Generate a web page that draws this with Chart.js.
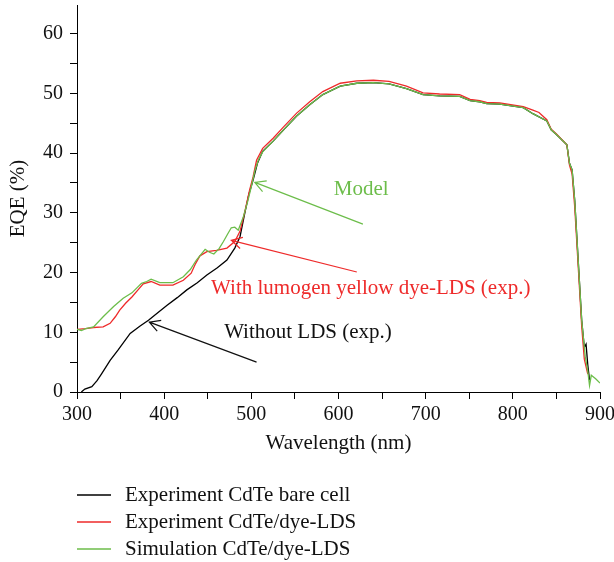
<!DOCTYPE html>
<html>
<head>
<meta charset="utf-8">
<script src="https://cdn.jsdelivr.net/npm/chart.js@4"></script>
<style>
  body { margin: 0; background: #fff; }
</style>
</head>
<body>
<canvas id="Chart" width="614" height="562"></canvas>
<script>
// data
const wlBare = [305, 309, 317, 323, 328, 338, 347, 361, 372, 382, 393, 403, 415, 426, 438, 449, 461, 472, 481, 487, 492, 497, 502, 507, 513, 525, 537, 552, 567, 582, 602, 621, 640, 658, 678, 697, 716, 739, 751, 762, 770, 785, 812, 823, 839, 844, 850, 862, 865, 868, 871, 875, 879, 882, 884, 886, 888];
const eqeBare = [0, 0.5, 0.9, 1.9, 3.0, 5.3, 7.0, 9.8, 11.0, 12.0, 13.3, 14.5, 15.8, 17.1, 18.3, 19.6, 20.8, 22.1, 24.1, 26.0, 29.6, 33.0, 35.5, 38.3, 40.3, 42.0, 43.9, 46.2, 48.1, 49.8, 51.2, 51.7, 51.8, 51.6, 50.8, 49.8, 49.6, 49.5, 48.8, 48.6, 48.3, 48.2, 47.6, 46.6, 45.4, 43.9, 43.1, 41.4, 38.3, 37.2, 32.1, 22.0, 12.0, 7.5, 8.0, 4.5, 2.0];

const wlDye = [300, 310, 319, 330, 338, 344, 349, 356, 363, 370, 376, 385, 395, 410, 422, 431, 436, 441, 449, 460, 472, 481, 487, 493, 498, 502, 506, 513, 525, 537, 552, 567, 582, 602, 621, 640, 658, 678, 697, 716, 739, 751, 762, 770, 785, 812, 823, 830, 839, 844, 850, 862, 865, 868, 871, 875, 879, 882, 886];
const eqeDye = [10.5, 10.6, 10.8, 10.9, 11.5, 12.6, 13.7, 14.9, 15.9, 17.1, 18.1, 18.5, 17.9, 17.9, 18.7, 19.9, 21.5, 22.8, 23.5, 23.7, 24.1, 25.2, 26.9, 30.5, 33.8, 36.0, 38.8, 40.8, 42.5, 44.4, 46.7, 48.6, 50.3, 51.7, 52.1, 52.2, 52.0, 51.2, 50.1, 49.9, 49.8, 49.0, 48.8, 48.5, 48.4, 47.8, 47.2, 46.8, 45.6, 44.0, 43.2, 41.4, 38.0, 36.5, 31.0, 21.0, 11.0, 5.5, 3.0];

const wlSim = [300, 305, 310, 319, 330, 342, 353, 363, 374, 380, 385, 395, 410, 422, 430, 437, 447, 452, 457, 463, 468, 473, 477, 481, 485, 491, 496, 500, 504, 508, 513, 525, 537, 552, 567, 582, 602, 621, 640, 658, 678, 697, 716, 739, 751, 762, 770, 785, 812, 823, 839, 844, 850, 862, 865, 868, 871, 875, 879, 883, 886, 888, 890, 895, 900];
const eqeSim = [10.5, 10.3, 10.6, 10.9, 12.6, 14.3, 15.7, 16.6, 18.2, 18.5, 18.9, 18.3, 18.3, 19.3, 20.5, 22.1, 23.9, 23.4, 23.1, 24.0, 25.2, 26.5, 27.5, 27.6, 27.1, 29.4, 32.0, 34.4, 37.0, 38.8, 40.2, 42.0, 43.9, 46.2, 48.1, 49.8, 51.2, 51.7, 51.8, 51.6, 50.8, 49.8, 49.6, 49.5, 48.8, 48.6, 48.3, 48.2, 47.6, 46.6, 45.4, 43.9, 43.1, 41.4, 38.3, 37.2, 32.1, 22.0, 12.0, 6.0, 3.5, 1.1, 2.8, 2.2, 1.5];

const seriesNames = ['Experiment CdTe bare cell', 'Experiment CdTe/dye-LDS', 'Simulation CdTe/dye-LDS'];

// annotation arrows: text at (x,y), arrow from -> to (data units)
const notes = [
  { text: 'Model', color: '#6cbd4a', at: [626, 33.9], from: [628, 28.1], to: [504, 35.1] },
  { text: 'With lumogen yellow dye-LDS (exp.)', color: '#ee2a2a', at: [637, 17.4], from: [621, 20.1], to: [477, 25.4] },
  { text: 'Without LDS (exp.)', color: '#111', at: [565, 10.0], from: [506, 5.0], to: [383, 11.7] }
];

const FONT = '"Liberation Serif", "DejaVu Serif", serif';
const colors = ['#000000', '#ee2a2a', '#6cbd4a'];

const toPoints = (xs, ys) => xs.map((x, i) => ({ x: x, y: ys[i] }));

const data = {
  datasets: [
    { label: seriesNames[0], data: toPoints(wlBare, eqeBare), borderColor: colors[0], order: 3 },
    { label: seriesNames[1], data: toPoints(wlDye, eqeDye), borderColor: colors[1], order: 2 },
    { label: seriesNames[2], data: toPoints(wlSim, eqeSim), borderColor: colors[2], order: 1 }
  ].map(d => Object.assign(d, { borderWidth: 1.3, pointRadius: 0, tension: 0, fill: false }))
};

// arrows + texts
const notesPlugin = {
  id: 'notes',
  afterDatasetsDraw(chart) {
    const { ctx, scales: { x, y } } = chart;
    ctx.save();
    ctx.font = '21px ' + FONT;
    ctx.textAlign = 'center';
    ctx.textBaseline = 'middle';
    notes.forEach(n => {
      const x0 = x.getPixelForValue(n.from[0]), y0 = y.getPixelForValue(n.from[1]);
      const x1 = x.getPixelForValue(n.to[0]), y1 = y.getPixelForValue(n.to[1]);
      ctx.strokeStyle = n.color;
      ctx.lineWidth = 1.2;
      ctx.beginPath();
      ctx.moveTo(x0, y0);
      ctx.lineTo(x1, y1);
      const a = Math.atan2(y0 - y1, x0 - x1);
      const len = 12, spread = 0.5;
      ctx.moveTo(x1 + len * Math.cos(a - spread), y1 + len * Math.sin(a - spread));
      ctx.lineTo(x1, y1);
      ctx.lineTo(x1 + len * Math.cos(a + spread), y1 + len * Math.sin(a + spread));
      ctx.stroke();
      ctx.fillStyle = n.color;
      ctx.fillText(n.text, x.getPixelForValue(n.at[0]), y.getPixelForValue(n.at[1]));
    });
    ctx.restore();
  }
};

// legend under the axis, one item per row
const legendPlugin = {
  id: 'rowLegend',
  afterDraw(chart) {
    const { ctx, chartArea } = chart;
    ctx.save();
    ctx.font = '21px ' + FONT;
    ctx.textBaseline = 'middle';
    ctx.textAlign = 'left';
    chart.data.datasets.forEach((ds, i) => {
      const yy = chartArea.bottom + 103 + i * 27;
      ctx.strokeStyle = ds.borderColor;
      ctx.lineWidth = 1.3;
      ctx.beginPath();
      ctx.moveTo(chartArea.left, yy);
      ctx.lineTo(chartArea.left + 34, yy);
      ctx.stroke();
      ctx.fillStyle = '#111';
      ctx.fillText(ds.label, chartArea.left + 48, yy);
    });
    ctx.restore();
  }
};

const config = {
  type: 'line',
  data,
  options: {
    responsive: false,
    animation: false,
    layout: { padding: { top: 5, right: 14, left: 0, bottom: 106 } },
    plugins: { legend: { display: false }, tooltip: { enabled: false } },
    scales: {
      x: {
        type: 'linear',
        min: 300,
        max: 900,
        afterFit: s => { s.height = 64; s.paddingLeft = 0; s.paddingRight = 0; },
        border: { display: true, color: '#000', width: 1 },
        grid: { drawOnChartArea: false, drawTicks: true, tickLength: 7, color: '#000' },
        ticks: {
          stepSize: 50,
          autoSkip: false,
          maxRotation: 0,
          padding: 4,
          color: '#111',
          font: { family: FONT, size: 20 },
          callback: v => (v % 100 === 0 ? v : '')
        },
        title: { display: true, text: 'Wavelength (nm)', color: '#111', font: { family: FONT, size: 21 }, padding: { top: 0, bottom: 0 } }
      },
      y: {
        min: 0,
        max: 64.8,
        afterFit: s => { s.width = 77; s.paddingTop = 0; s.paddingBottom = 0; },
        border: { display: true, color: '#000', width: 1 },
        grid: { drawOnChartArea: false, drawTicks: true, tickLength: 7, color: '#000' },
        ticks: {
          stepSize: 5,
          includeBounds: false,
          padding: 7,
          color: '#111',
          font: { family: FONT, size: 20 },
          callback: v => (v % 10 === 0 ? v : '')
        },
        title: { display: true, text: 'EQE (%)', color: '#111', font: { family: FONT, size: 21 }, padding: { top: 6, bottom: 0 } }
      }
    }
  },
  plugins: [notesPlugin, legendPlugin]
};

const myChart = new Chart(document.getElementById('Chart'), config);
</script>
</body>
</html>
